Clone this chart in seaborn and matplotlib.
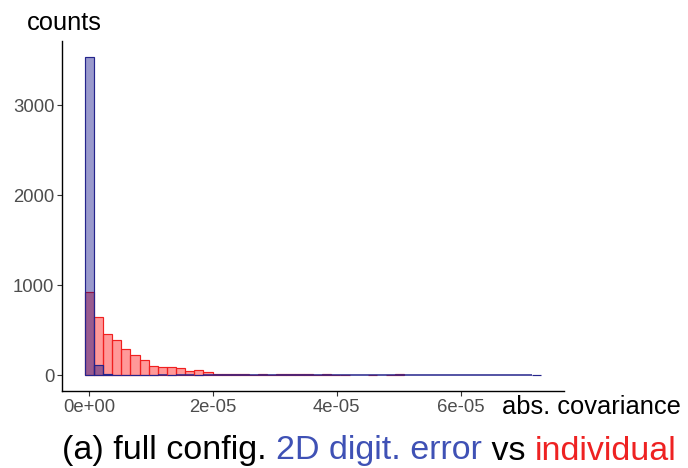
import numpy as np
import pandas as pd
import matplotlib
matplotlib.use("Agg")
import matplotlib.pyplot as plt
import seaborn as sns

# ---- data (bin counts) ----
x_max = 7.23e-05            # largest abs. covariance
n_bins = 50
individual_counts = [920, 647, 458, 394, 294, 224, 172, 100, 91, 91,
                     76, 43, 55, 30, 18, 12, 14, 10, 3, 14,
                     4, 8, 15, 10, 8, 3, 8, 2, 2, 0,
                     0, 2, 0, 2, 8, 0, 0, 0, 0, 0,
                     0, 0, 0, 0, 0, 0, 0, 0, 0, 0]
digit_error_counts = [3533, 113, 12, 3, 2, 1, 1, 1, 0, 1,
                      0, 0, 1, 0, 0, 0, 0, 0, 0, 0,
                      0, 0, 0, 0, 0, 0, 0, 0, 0, 0,
                      0, 0, 0, 0, 0, 0, 0, 0, 0, 0,
                      0, 0, 0, 0, 0, 0, 0, 0, 0, 1]
x_ticks = [0, 2e-05, 4e-05, 6e-05]
x_tick_labels = ["0e+00", "2e-05", "4e-05", "6e-05"]
y_ticks = [0, 1000, 2000, 3000]

# ggplot-style bins: centred on min and max
width = x_max / (n_bins - 1)
edges = [-width / 2 + width * i for i in range(n_bins + 1)]
centers = [(edges[i] + edges[i + 1]) / 2 for i in range(n_bins)]
df = pd.DataFrame({"cov": centers,
                   "individual": individual_counts,
                   "digit": digit_error_counts})

sns.set_theme(style="white")
plt.rcParams['font.family'] = ['Liberation Sans', 'DejaVu Sans']

fig = plt.figure(figsize=(6.88, 4.68), dpi=100)
ax = fig.add_axes([0.0901, 0.1645, 0.7297, 0.747])

sns.histplot(data=df, x="cov", weights="individual", bins=edges, ax=ax,
             facecolor=(1, 0, 0, 0.4), edgecolor="#F02020", linewidth=0.85,
             zorder=2)
# empty red bins lie under the blue baseline; keep them from tinting it
for p in ax.patches:
    if p.get_height() == 0:
        p.set_edgecolor("none")
n_red = len(ax.patches)
sns.histplot(data=df, x="cov", weights="digit", bins=edges, ax=ax,
             facecolor=(0, 0, 0.5, 0.4), edgecolor="#24248C", linewidth=0.85,
             zorder=3)
for p in ax.patches[n_red:]:
    if p.get_height() == 0:
        p.set_linewidth(1.1)

lo, hi = edges[0], edges[-1]
pad = 0.05 * (hi - lo)
ax.set_xlim(lo - pad, hi + pad)
ymax = max(digit_error_counts)
ax.set_ylim(-0.05 * ymax, 1.05 * ymax)

ax.set_xticks(x_ticks)
ax.set_xticklabels(x_tick_labels)
ax.set_yticks(y_ticks)
ax.set_xlabel("")
ax.set_ylabel("")
for s in ["top", "right"]:
    ax.spines[s].set_visible(False)
for s in ["left", "bottom"]:
    ax.spines[s].set_color("black")
    ax.spines[s].set_linewidth(1.0)
ax.tick_params(axis="both", length=3.5, width=0.8, color="#333333",
               labelsize=13.3, labelcolor="#4D4D4D", pad=2, bottom=True, left=True)

fig.text(64 / 688, 1 - 30 / 468, "counts", ha="center", va="baseline",
         fontsize=18.4, color="black")
fig.text(502 / 688, 1 - 414.5 / 468, "abs. covariance", ha="left", va="baseline",
         fontsize=18.4, color="black")

# multi-coloured title
parts = [("(a) full config. ", "black"), ("2D digit. error", "#3F51B5"),
         (" vs ", "black"), ("individual", "#EE2222")]
fig.canvas.draw()
renderer = fig.canvas.get_renderer()
x = 61.5 / 688
y = 1 - 459.5 / 468
for txt, col in parts:
    t = fig.text(x, y, txt, ha="left", va="baseline", fontsize=24.5, color=col)
    bb = t.get_window_extent(renderer=renderer)
    x += bb.width / fig.bbox.width

fig.savefig("out.png", dpi=100)
